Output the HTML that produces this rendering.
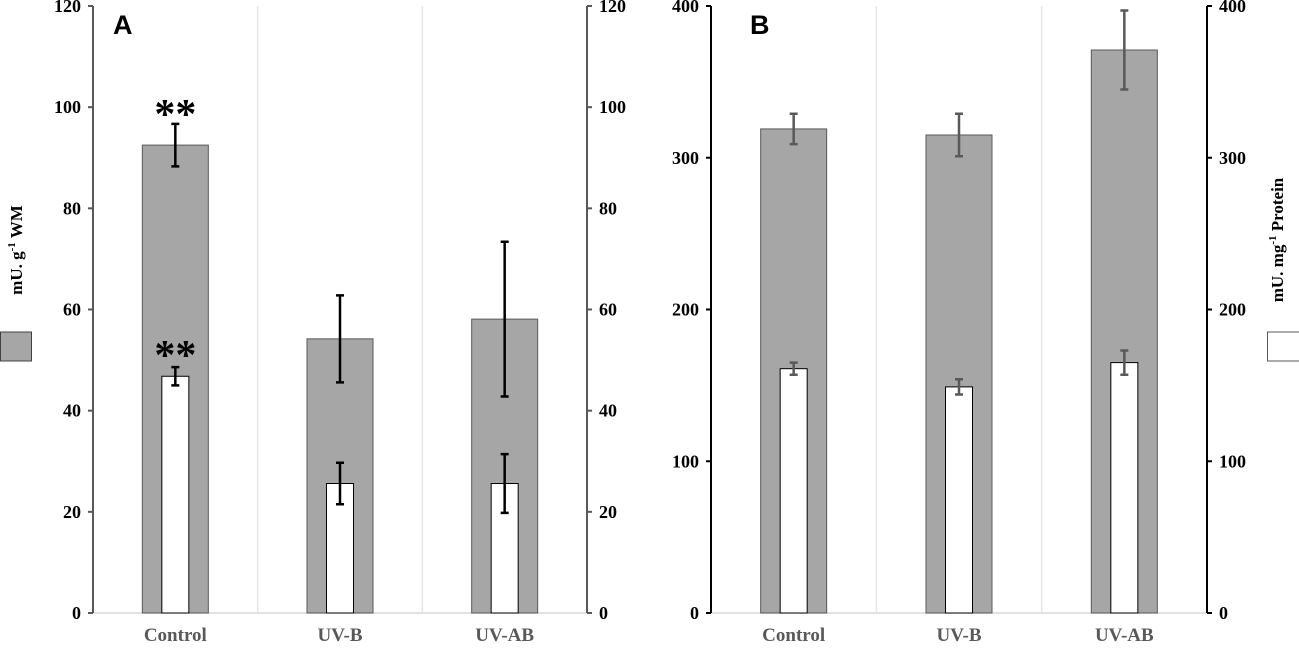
<!DOCTYPE html>
<html><head><meta charset="utf-8"><style>
body{margin:0;background:#fff}
svg text{font-family:"Liberation Serif",serif;font-weight:bold}
svg text.sans{font-family:"Liberation Sans",sans-serif}
</style></head><body>
<svg id="c" width="1299" height="644" xmlns="http://www.w3.org/2000/svg"></svg>
<script>
const categories=["Control","UV-B","UV-AB"];
const aGray=[92.5,54.2,58.1];
const aGrayErr=[4.2,8.6,15.3];
const aWhite=[46.8,25.6,25.6];
const aWhiteErr=[1.8,4.1,5.8];
const bGray=[319,315,371];
const bGrayErr=[10,14,26];
const bWhite=[161,149,165];
const bWhiteErr=[4,5,8];
const aTicks=[0,20,40,60,80,100,120];
const bTicks=[0,100,200,300,400];
const aStars=[true,false,false];

const svg=document.getElementById('c');
const NS="http://www.w3.org/2000/svg";
function mk(t,a,txt){const e=document.createElementNS(NS,t);for(const k in a)e.setAttribute(k,a[k]);if(txt!==undefined)e.textContent=txt;svg.appendChild(e);return e;}
const y0=613,yTop=6;
function panel(p){
  const {x0,x1,max,ticks,gray,grayErr,white,whiteErr,errCol,lblL,lblR,name}=p;
  const ys=v=>y0-(v/max)*(y0-yTop);
  const bw=(x1-x0)/categories.length;
  const xc=i=>x0+bw*(i+0.5);
  for(let i=1;i<categories.length;i++){
    const l=mk('line',{x1:x0+bw*i,x2:x0+bw*i,y1:yTop,y2:y0,stroke:'#e6e6e6','stroke-width':1.5});
    
    
  }
  const base=mk('line',{x1:x0,x2:x1,y1:y0,y2:y0,stroke:'#d9d9d9','stroke-width':1.5});
  
  
  categories.forEach((c,i)=>{
    const g=mk('rect',{x:xc(i)-33,y:ys(gray[i]),width:66,height:y0-ys(gray[i]),fill:'#a6a6a6',stroke:'#595959','stroke-width':1});
    
    
    const w=mk('rect',{x:xc(i)-13.5,y:ys(white[i]),width:27,height:y0-ys(white[i]),fill:'#fff',stroke:'#000','stroke-width':1});
    
    
    [[gray[i],grayErr[i]],[white[i],whiteErr[i]]].forEach(([v,e],k)=>{
      const t=ys(v+e),b=ys(v-e),x=xc(i);
      const el=mk('path',{d:`M${x},${t}V${b}M${x-4},${t}H${x+4}M${x-4},${b}H${x+4}`,stroke:errCol,'stroke-width':2.5,fill:'none'});
      
      
    });
    const lb=mk('text',{x:xc(i),y:641,'text-anchor':'middle','font-size':19,fill:'#595959'},c);
    
    
  });
  [[x0,-1,lblL],[x1,1,lblR]].forEach(([ax,dir,col])=>{
    const a=mk('line',{x1:ax,x2:ax,y1:yTop,y2:y0,stroke:col,'stroke-width':2});
    
    
    ticks.forEach(t=>{
      mk('line',{x1:ax,x2:ax+dir*5,y1:ys(t),y2:ys(t),stroke:col,'stroke-width':2});
      const tx=mk('text',{x:ax+dir*(dir<0?12:12),y:ys(t)+6,'text-anchor':dir<0?'end':'start','font-size':18,fill:'#000'},t);
      
      
    });
  });
  return {ys,xc};
}
const A=panel({x0:93,x1:587,max:120,ticks:aTicks,gray:aGray,grayErr:aGrayErr,white:aWhite,whiteErr:aWhiteErr,errCol:'#000',lblL:'#595959',lblR:'#595959',name:'panel-a'});
const B=panel({x0:711,x1:1207,max:400,ticks:bTicks,gray:bGray,grayErr:bGrayErr,white:bWhite,whiteErr:bWhiteErr,errCol:'#595959',lblL:'#000',lblR:'#000',name:'panel-b'});
categories.forEach((c,i)=>{
  if(!aStars[i])return;
  const s1=mk('text',{x:A.xc(i),y:A.ys(aGray[i]+aGrayErr[i])+4,'text-anchor':'middle','font-size':42,fill:'#000'},'**');
  
  
  const s2=mk('text',{x:A.xc(i),y:A.ys(aWhite[i]+aWhiteErr[i])+2,'text-anchor':'middle','font-size':42,fill:'#000'},'**');
  
  
});
</script>
<svg style="position:absolute;left:0;top:0" width="1299" height="644" xmlns="http://www.w3.org/2000/svg">
<text class="sans" x="113" y="34" font-size="27">A</text>
<text class="sans" x="750" y="34" font-size="27">B</text>
<text transform="translate(22,250) rotate(-90)" text-anchor="middle" font-size="17">mU. g<tspan font-size="11" dy="-7">-1</tspan><tspan dy="7"> WM</tspan></text>
<rect x="0.5" y="332" width="31" height="29" fill="#a6a6a6" stroke="#404040" stroke-width="1"/>
<text transform="translate(1283,240) rotate(-90)" text-anchor="middle" font-size="17">mU. mg<tspan font-size="11" dy="-7">-1</tspan><tspan dy="7"> Protein</tspan></text>
<rect x="1267.5" y="332" width="32" height="29" fill="#fff" stroke="#595959" stroke-width="1"/>
</svg>
</body></html>
